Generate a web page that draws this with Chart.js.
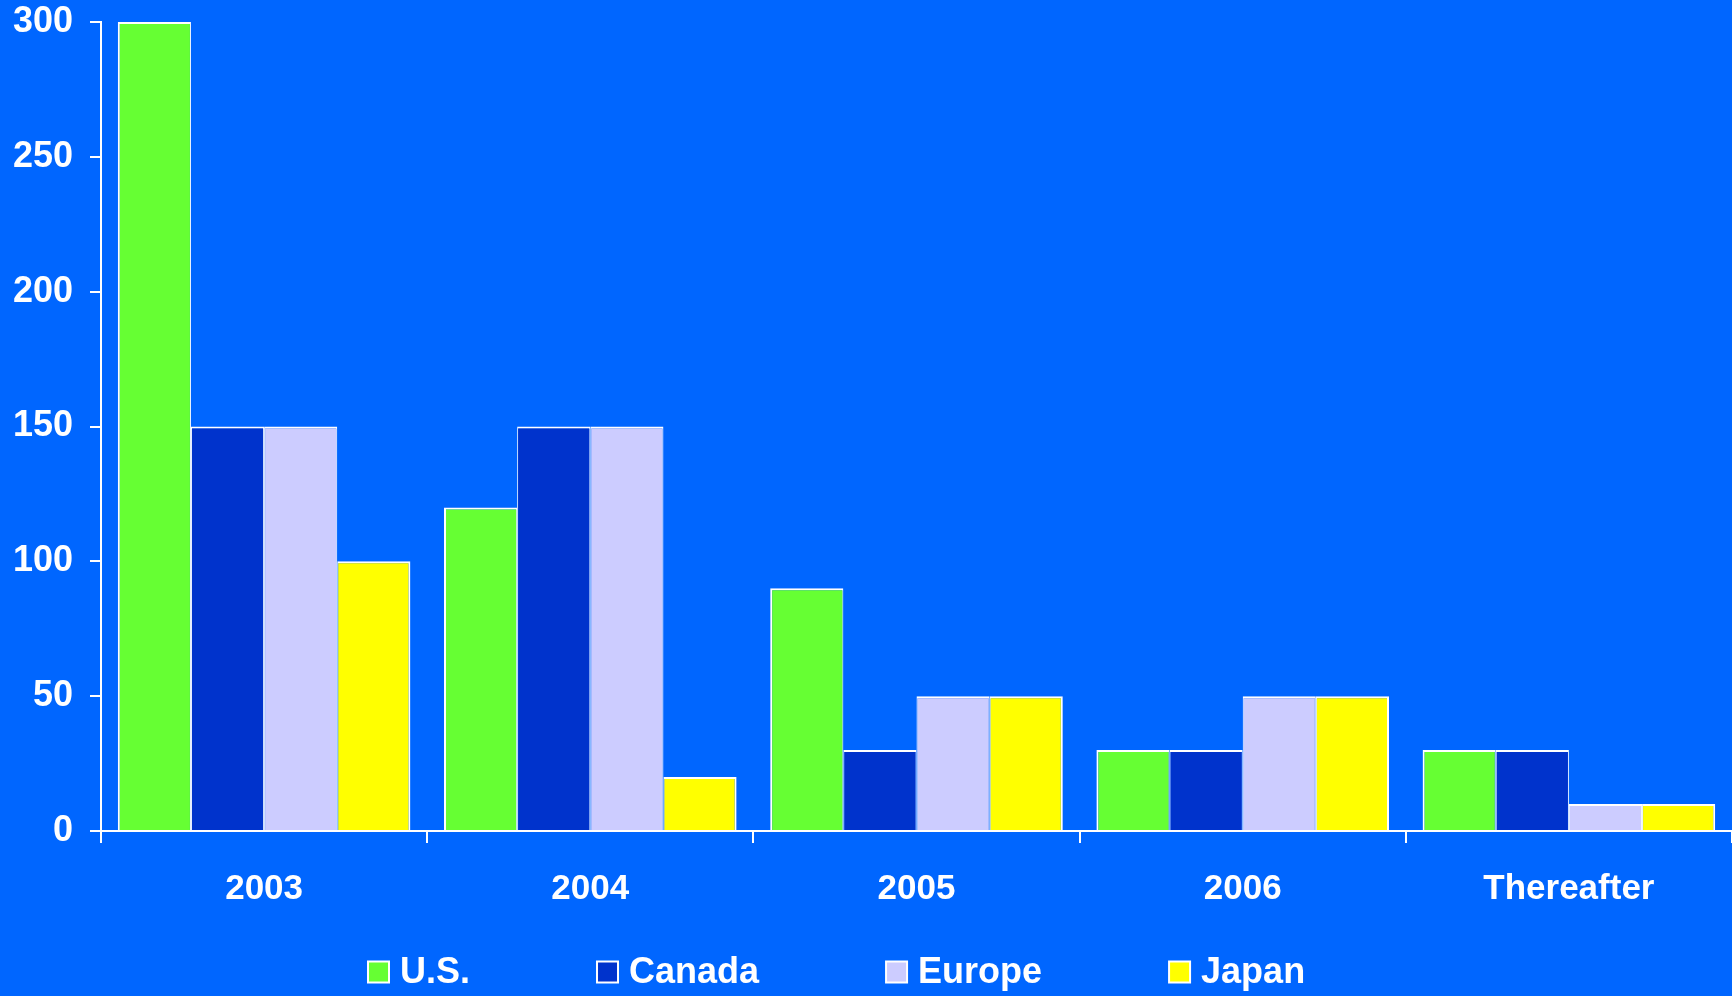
<!DOCTYPE html>
<html>
<head>
<meta charset="utf-8">
<script src="https://cdn.jsdelivr.net/npm/chart.js@4/dist/chart.umd.min.js"></script>
<style>
  html, body { margin: 0; padding: 0; background: #0066FF; }
  #wrap { width: 1732px; height: 996px; }
</style>
</head>
<body>
<div id="wrap"><canvas id="c" width="1732" height="996"></canvas></div>
<script>
// Categories and series values
const categories = ['2003', '2004', '2005', '2006', 'Thereafter'];
const usValues     = [300, 120, 90, 30, 30];
const canadaValues = [150, 150, 30, 30, 30];
const europeValues = [150, 150, 50, 50, 10];
const japanValues  = [100, 20, 50, 50, 10];
const yTicks = [0, 50, 100, 150, 200, 250, 300];

const FONT = "'Liberation Sans', Arial, Helvetica, sans-serif";

// Legend drawn as a row of boxed swatches under the axis
const rowLegend = {
  id: 'rowLegend',
  afterDraw(chart) {
    const ctx = chart.ctx;
    const box = 21, gap = 11, spacing = 127;
    const cy = 972;
    let x = 368;
    ctx.save();
    ctx.font = "bold 36px " + FONT;
    ctx.textBaseline = 'middle';
    ctx.textAlign = 'left';
    chart.data.datasets.forEach(ds => {
      ctx.fillStyle = ds.backgroundColor;
      ctx.fillRect(x, cy - box / 2, box, box);
      ctx.strokeStyle = '#FFFFFF';
      ctx.lineWidth = 2;
      ctx.strokeRect(x, cy - box / 2, box, box);
      ctx.fillStyle = '#FFFFFF';
      const tx = x + box + gap;
      ctx.fillText(ds.label, tx, cy + 1);
      x = tx + ctx.measureText(ds.label).width + spacing;
    });
    ctx.restore();
  }
};

function series(label, data, color, bw) {
  return {
    label, data,
    backgroundColor: color,
    borderColor: '#FFFFFF',
    borderWidth: bw,
    borderSkipped: 'bottom',
    categoryPercentage: 0.897,
    barPercentage: 1.0
  };
}

new Chart(document.getElementById('c'), {
  type: 'bar',
  data: {
    labels: categories,
    datasets: [
      series('U.S.',   usValues,     '#66FF33', { top: 2, left: 2, right: 1, bottom: 0 }),
      series('Canada', canadaValues, '#0033CC', { top: 2, left: 1, right: 1, bottom: 0 }),
      series('Europe', europeValues, '#CCCCFF', { top: 2, left: 1, right: 1, bottom: 0 }),
      series('Japan',  japanValues,  '#FFFF00', { top: 2, left: 1, right: 2, bottom: 0 })
    ]
  },
  options: {
    responsive: false,
    animation: false,
    layout: { padding: { left: 0, top: 0, right: 0, bottom: 85 } },
    plugins: {
      legend: { display: false },
      tooltip: { enabled: false }
    },
    scales: {
      x: {
        offset: true,
        afterFit(scale) {
          scale.height = 80;
          scale.paddingLeft = 0;
          scale.paddingRight = 0;
        },
        grid: {
          offset: true,
          drawOnChartArea: false,
          color: '#FFFFFF',
          lineWidth: 2,
          tickLength: 12
        },
        border: { color: '#FFFFFF', width: 2 },
        ticks: {
          color: '#FFFFFF',
          font: { family: FONT, size: 35, weight: 'bold' },
          padding: 25,
          maxRotation: 0
        }
      },
      y: {
        min: 0,
        max: 300,
        afterBuildTicks(scale) { scale.ticks = yTicks.map(v => ({ value: v })); },
        afterFit(scale) {
          scale.width = 101;
          scale.paddingTop = 22;
          scale.paddingBottom = 0;
        },
        grid: {
          drawOnChartArea: false,
          color: '#FFFFFF',
          lineWidth: 2,
          tickLength: 11
        },
        border: { color: '#FFFFFF', width: 2 },
        ticks: {
          color: '#FFFFFF',
          font: { family: FONT, size: 36, weight: 'bold' },
          padding: 17
        }
      }
    }
  },
  plugins: [rowLegend]
});
</script>
</body>
</html>
